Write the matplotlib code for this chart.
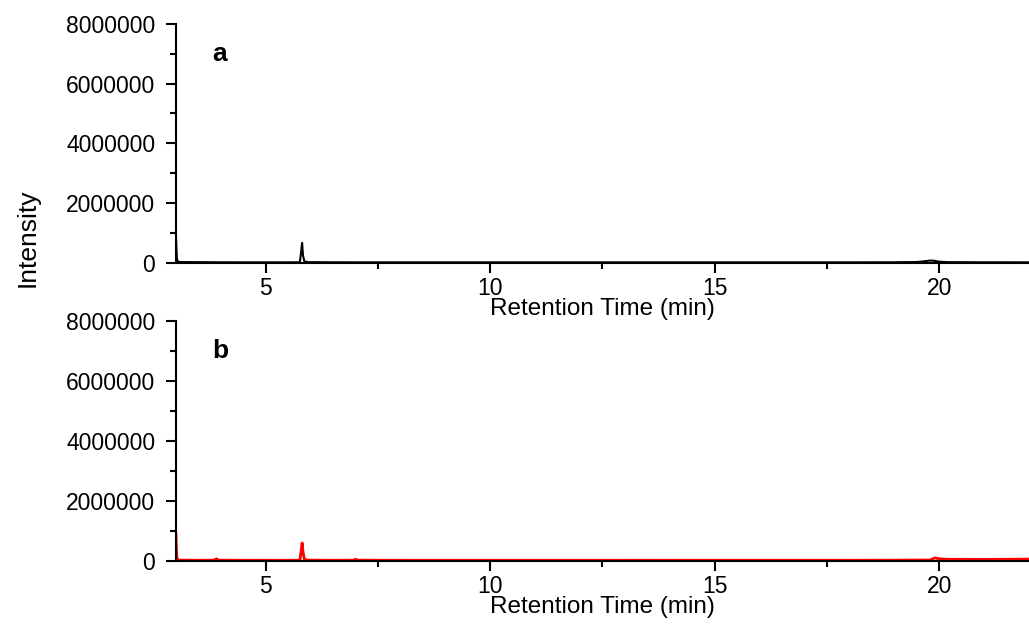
import matplotlib.pyplot as plt
from matplotlib.ticker import MultipleLocator

plt.rcParams['font.family'] = ['Liberation Sans', 'DejaVu Sans']

# chromatogram a (black)
timeA = [3.00, 3.01, 3.02, 3.04, 3.08, 3.5, 4.0, 4.5, 5.0, 5.5, 5.76, 5.79, 5.81, 5.83, 5.86, 5.95,
         6.5, 7.0, 8.0, 9.0, 10.0, 11.0, 12.0, 13.0, 14.0, 15.0, 16.0, 17.0, 18.0, 19.0,
         19.5, 19.7, 19.8, 19.9, 20.0, 20.2, 21.0, 22.0]
intensityA = [930000, 500000, 150000, 50000, 30000, 25000, 22000, 20000, 20000, 20000, 22000, 400000,
              670000, 250000, 50000, 25000,
              22000, 20000, 20000, 20000, 20000, 20000, 20000, 20000, 20000, 20000, 20000, 20000, 20000, 22000,
              30000, 60000, 80000, 70000, 40000, 25000, 22000, 20000]

# chromatogram b (red)
timeB = [3.00, 3.01, 3.02, 3.04, 3.08, 3.5, 3.85, 3.9, 3.95, 4.5, 5.0, 5.5, 5.76, 5.79, 5.81, 5.83, 5.86,
         5.95, 6.5, 6.95, 7.0, 7.05, 8.0, 9.0, 10.0, 11.0, 12.0, 13.0, 14.0, 15.0, 16.0, 17.0, 18.0,
         19.0, 19.8, 19.9, 20.0, 20.2, 21.0, 22.0]
intensityB = [900000, 400000, 120000, 40000, 25000, 22000, 25000, 70000, 25000, 22000, 20000, 20000, 22000,
              350000, 600000, 300000, 50000,
              25000, 22000, 25000, 55000, 25000, 20000, 20000, 20000, 20000, 20000, 20000, 22000, 22000, 22000,
              22000, 22000, 25000, 30000, 100000, 70000, 55000, 50000, 60000]

panels = [(timeA, intensityA, 'black', 'a', 1.5), (timeB, intensityB, 'red', 'b', 2.0)]
axPositions = [[0.171, 0.580, 0.829, 0.382], [0.171, 0.104, 0.829, 0.383]]

fig = plt.figure(figsize=(10.29, 6.26), dpi=100)
for (times, values, color, letter, lw), pos in zip(panels, axPositions):
    ax = fig.add_axes(pos)
    ax.plot(times, values, color=color, linewidth=lw)
    ax.set_xlim(3, 22)
    ax.set_ylim(0, 8000000)
    ax.set_xticks([5, 10, 15, 20])
    ax.xaxis.set_minor_locator(MultipleLocator(2.5))
    ax.set_yticks([0, 2000000, 4000000, 6000000, 8000000])
    ax.set_yticklabels(['0', '2000000', '4000000', '6000000', '8000000'])
    ax.yaxis.set_minor_locator(MultipleLocator(1000000))
    for side in ['top', 'right']:
        ax.spines[side].set_visible(False)
    for side in ['left', 'bottom']:
        ax.spines[side].set_linewidth(1.5)
    ax.tick_params(which='major', direction='out', length=7, width=1.5, labelsize=16.5)
    ax.tick_params(axis='y', which='major', pad=8)
    ax.tick_params(axis='x', which='major', pad=3)
    ax.tick_params(which='minor', direction='out', length=4, width=1.5)
    ax.set_xlabel('Retention Time (min)', fontsize=17.5, labelpad=-1)
    ax.text(0.043, 0.845, letter, transform=ax.transAxes, fontsize=19, fontweight='bold')

fig.text(0.027, 0.62, 'Intensity', rotation=90, ha='center', va='center', fontsize=19)

fig.savefig('out.png', dpi=100)
